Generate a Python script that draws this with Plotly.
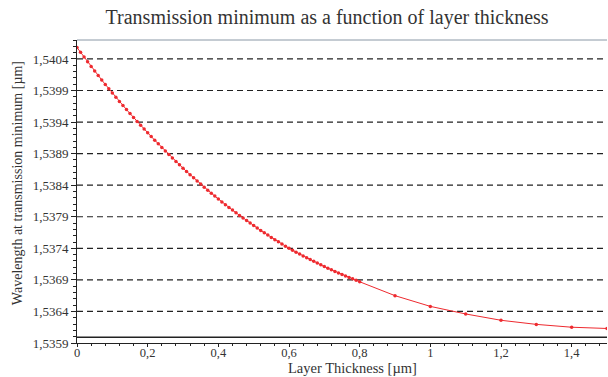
import plotly.graph_objects as go

title_text = "Transmission minimum as a function of layer thickness"
x_label = "Layer Thickness [µm]"
y_label = "Wavelength at transmission minimum [µm]"

thickness = [
    0.00, 0.01, 0.02, 0.03, 0.04, 0.05, 0.06, 0.07, 0.08, 0.09,
    0.10, 0.11, 0.12, 0.13, 0.14, 0.15, 0.16, 0.17, 0.18, 0.19,
    0.20, 0.21, 0.22, 0.23, 0.24, 0.25, 0.26, 0.27, 0.28, 0.29,
    0.30, 0.31, 0.32, 0.33, 0.34, 0.35, 0.36, 0.37, 0.38, 0.39,
    0.40, 0.41, 0.42, 0.43, 0.44, 0.45, 0.46, 0.47, 0.48, 0.49,
    0.50, 0.51, 0.52, 0.53, 0.54, 0.55, 0.56, 0.57, 0.58, 0.59,
    0.60, 0.61, 0.62, 0.63, 0.64, 0.65, 0.66, 0.67, 0.68, 0.69,
    0.70, 0.71, 0.72, 0.73, 0.74, 0.75, 0.76, 0.77, 0.78, 0.79,
    0.80, 0.90, 1.00, 1.10, 1.20, 1.30, 1.40, 1.50,
]

wavelength = [
    1.540580, 1.540504, 1.540429, 1.540355, 1.540282, 1.540210, 1.540138, 1.540067, 1.539997, 1.539928,
    1.539860, 1.539793, 1.539727, 1.539662, 1.539598, 1.539535, 1.539472, 1.539410, 1.539349, 1.539289,
    1.539230, 1.539171, 1.539113, 1.539056, 1.538999, 1.538943, 1.538887, 1.538832, 1.538777, 1.538723,
    1.538670, 1.538618, 1.538567, 1.538517, 1.538467, 1.538418, 1.538369, 1.538321, 1.538274, 1.538227,
    1.538180, 1.538135, 1.538091, 1.538048, 1.538005, 1.537963, 1.537921, 1.537880, 1.537840, 1.537800,
    1.537760, 1.537721, 1.537683, 1.537646, 1.537609, 1.537573, 1.537537, 1.537502, 1.537468, 1.537434,
    1.537400, 1.537369, 1.537339, 1.537309, 1.537280, 1.537251, 1.537222, 1.537194, 1.537166, 1.537138,
    1.537110, 1.537084, 1.537059, 1.537034, 1.537010, 1.536986, 1.536962, 1.536939, 1.536916, 1.536893,
    1.536870, 1.536650, 1.536480, 1.536360, 1.536260, 1.536195, 1.536150, 1.536130,
]

y_ticks = [1.5359, 1.5364, 1.5369, 1.5374, 1.5379, 1.5384, 1.5389, 1.5394, 1.5399, 1.5404]
x_ticks = [0, 0.2, 0.4, 0.6, 0.8, 1.0, 1.2, 1.4]
baseline_value = 1.53599

serif = "Times New Roman, Liberation Serif, serif"
txt = "#333333"

fig = go.Figure()
fig.add_trace(go.Scatter(
    x=thickness, y=wavelength, mode="lines+markers",
    line=dict(color="#ee2a2f", width=1),
    marker=dict(color="#ee2a2f", size=3.5, symbol="circle"),
    showlegend=False,
))

for v in y_ticks[1:]:
    fig.add_shape(type="line", xref="paper", x0=0, x1=1, yref="y", y0=v, y1=v,
                  line=dict(color="#222222", width=1.2, dash="6px,4px"), layer="below")
fig.add_shape(type="line", xref="paper", x0=0, x1=1, yref="y", y0=baseline_value, y1=baseline_value,
              line=dict(color="#222222", width=1.5), layer="below")
fig.add_shape(type="line", xref="paper", x0=0, x1=1, yref="paper", y0=1, y1=1,
              line=dict(color="#8a98a6", width=1))

fig.add_annotation(text=x_label, xref="paper", yref="paper", x=0.519, y=-0.084,
                   xanchor="center", yanchor="middle", showarrow=False,
                   font=dict(family=serif, size=14.5, color=txt))
fig.add_annotation(text=y_label, xref="paper", yref="paper", x=-0.113, y=0.528,
                   xanchor="center", yanchor="middle", showarrow=False, textangle=-90,
                   font=dict(family=serif, size=14, color=txt))

fig.update_layout(
    width=608, height=377,
    margin=dict(l=77, r=1, t=40, b=34, autoexpand=False),
    paper_bgcolor="white", plot_bgcolor="white",
    separators=", ",
    title=dict(text=title_text, x=0.538, xref="container", xanchor="center",
               y=0.955, yref="container", yanchor="middle",
               font=dict(family=serif, size=20, color=txt)),
    font=dict(family=serif, color=txt),
)
fig.update_xaxes(
    range=[0, 1.5], tickvals=x_ticks, showgrid=False, zeroline=False,
    showline=True, linecolor="#222222", linewidth=1,
    ticks="outside", ticklen=3, tickcolor="#222222",
    minor=dict(dtick=0.04, tick0=0, ticks="outside", ticklen=2, tickcolor="#222222", showgrid=False),
    tickfont=dict(family=serif, size=12.5, color=txt),
    ticklabelstandoff=-5,
)
fig.update_yaxes(
    range=[1.5359, 1.5407], tickvals=y_ticks, tickformat=".4f", showgrid=False, zeroline=False,
    showline=True, linecolor="#222222", linewidth=1,
    ticks="outside", ticklen=5, tickcolor="#222222",
    minor=dict(dtick=0.0001, tick0=1.5359, ticks="outside", ticklen=3, tickcolor="#222222", showgrid=False),
    tickfont=dict(family=serif, size=13, color=txt),
)

fig.write_html("out.html")
